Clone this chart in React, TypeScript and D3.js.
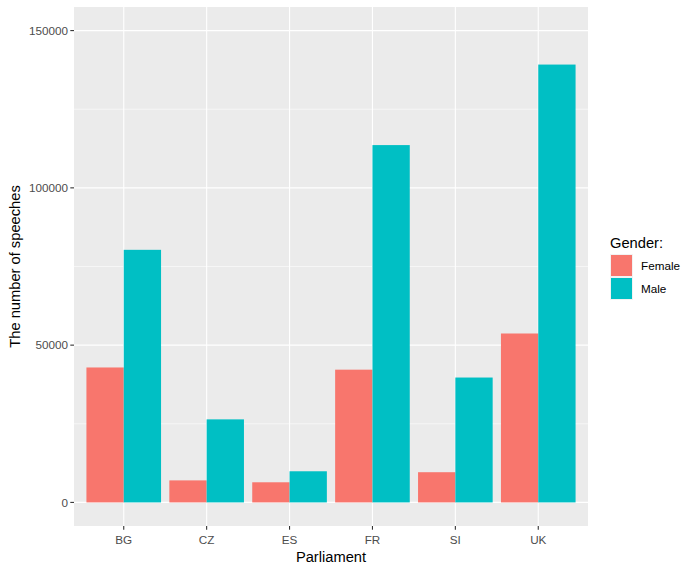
import React from 'react';
import * as d3 from 'd3';

const parliaments = ['BG', 'CZ', 'ES', 'FR', 'SI', 'UK'];
const genders = ['Female', 'Male'];
const female = [42900, 7000, 6400, 42200, 9600, 53700];
const male = [80300, 26400, 9900, 113600, 39700, 139200];
const majorTicks = [0, 50000, 100000, 150000];
const minorTicks = [25000, 75000, 125000];
const colors = ['#F8766D', '#00BFC4'];

export default function App() {
  const width = 695;
  const height = 572;
  const panel = { left: 74, right: 588, top: 7, bottom: 526 };
  const font = 'Arial, "Liberation Sans", sans-serif';

  // ggplot style expansion: limits 0..150000 expanded by 5%
  const y = d3.scaleLinear().domain([-7500, 157500]).range([panel.bottom, panel.top]);

  // discrete axis: 0.6 units from first/last centre to the edge
  const x = d3.scaleBand()
    .domain(parliaments)
    .range([panel.left, panel.right])
    .paddingOuter(0.1)
    .paddingInner(0);
  const step = x.step();
  const barGroup = step * 0.9;
  const sub = d3.scaleBand().domain(genders).range([0, barGroup]);
  const center = (p: string) => x(p)! + step / 2;

  const rows = parliaments.flatMap((p, i) => [
    { p, g: 'Female', v: female[i] },
    { p, g: 'Male', v: male[i] },
  ]);

  return (
    <svg width={width} height={height} style={{ position: 'absolute', left: 0, top: 0, background: '#fff' }} fontFamily={font}>
      <rect x={panel.left} y={panel.top} width={panel.right - panel.left} height={panel.bottom - panel.top} fill="#EBEBEB" />
      {minorTicks.map(t => (
        <line key={'mi' + t} x1={panel.left} x2={panel.right} y1={y(t)} y2={y(t)} stroke="#fff" strokeWidth={0.55} />
      ))}
      {majorTicks.map(t => (
        <line key={'ma' + t} x1={panel.left} x2={panel.right} y1={y(t)} y2={y(t)} stroke="#fff" strokeWidth={1.1} />
      ))}
      {parliaments.map(p => (
        <line key={'v' + p} x1={center(p)} x2={center(p)} y1={panel.top} y2={panel.bottom} stroke="#fff" strokeWidth={1.1} />
      ))}
      {rows.map(r => (
        <rect
          key={r.p + r.g}
          x={center(r.p) - barGroup / 2 + sub(r.g)!}
          y={y(r.v)}
          width={sub.bandwidth()}
          height={y(0) - y(r.v)}
          fill={colors[genders.indexOf(r.g)]}
        />
      ))}
      {/* y axis */}
      {majorTicks.map(t => (
        <g key={'yt' + t}>
          <line x1={panel.left - 3.7} x2={panel.left} y1={y(t)} y2={y(t)} stroke="#333" strokeWidth={1.1} />
          <text x={panel.left - 6} y={y(t)} dy="0.35em" textAnchor="end" fontSize={11.7} fill="#4D4D4D">{t}</text>
        </g>
      ))}
      {/* x axis */}
      {parliaments.map(p => (
        <g key={'xt' + p}>
          <line x1={center(p)} x2={center(p)} y1={panel.bottom} y2={panel.bottom + 3.7} stroke="#333" strokeWidth={1.1} />
          <text x={center(p)} y={panel.bottom + 14} dy="0.35em" textAnchor="middle" fontSize={11.7} fill="#4D4D4D">{p}</text>
        </g>
      ))}
      <text x={(panel.left + panel.right) / 2} y={557} dy="0.35em" textAnchor="middle" fontSize={14.7} fill="#000">Parliament</text>
      <text transform={`translate(15,${(panel.top + panel.bottom) / 2}) rotate(-90)`} dy="0.35em" textAnchor="middle" fontSize={14.7} fill="#000">The number of speeches</text>
      {/* legend */}
      <text x={610} y={243} dy="0.35em" fontSize={14.7} fill="#000">Gender:</text>
      {genders.map((g, i) => (
        <g key={'lg' + g}>
          <rect x={610} y={254 + i * 23} width={23} height={23} fill="#F2F2F2" />
          <rect x={611} y={255 + i * 23} width={21} height={21} fill={colors[i]} />
          <text x={641} y={266 + i * 23} dy="0.35em" fontSize={11.7} fill="#000">{g}</text>
        </g>
      ))}
    </svg>
  );
}
